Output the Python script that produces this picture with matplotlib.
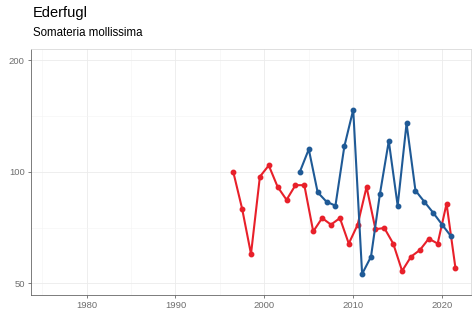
import numpy as np
import matplotlib.pyplot as plt
from matplotlib.ticker import FixedLocator, NullFormatter

plt.rcParams['font.family'] = ['Liberation Sans', 'DejaVu Sans']

# red series (season counts, plotted mid-season)
red_years = [1996.5, 1997.5, 1998.5, 1999.5, 2000.5, 2001.5, 2002.5, 2003.5,
             2004.5, 2005.5, 2006.5, 2007.5, 2008.5, 2009.5, 2010.5, 2011.5,
             2012.5, 2013.5, 2014.5, 2015.5, 2016.5, 2017.5, 2018.5, 2019.5,
             2020.5, 2021.5]
red_vals = [100, 79.5, 60, 97, 104, 91, 84, 92,
            92, 69, 75, 72, 75, 64, 72, 91,
            70, 70.5, 64, 54, 59, 61.5, 66, 64,
            82, 55]

# blue series
blue_years = [2004, 2005, 2006, 2007, 2008, 2009, 2010, 2011, 2012,
              2013, 2014, 2015, 2016, 2017, 2018, 2019, 2020, 2021]
blue_vals = [100, 115, 88, 83, 81, 117, 147, 53, 59,
             87, 121, 81, 135, 89, 83, 77.5, 72, 67]

x_ticks = [1980, 1990, 2000, 2010, 2020]
x_minor = [1975, 1985, 1995, 2005, 2015]
y_ticks = [50, 100, 200]
y_minor = [70.7, 141.4]

fig = plt.figure(figsize=(4.72, 3.16), dpi=100)
ax = fig.add_axes([31 / 472, (316 - 294.5) / 316, 440 / 472, 245.5 / 316])

ax.set_yscale('log')
ax.set_xlim(1973.75, 2023.25)
ax.set_ylim(50 / 10 ** 0.0301, 200 * 10 ** 0.0301)

ax.yaxis.set_major_locator(FixedLocator(y_ticks))
ax.yaxis.set_minor_locator(FixedLocator(y_minor))
ax.yaxis.set_minor_formatter(NullFormatter())
ax.set_yticklabels([str(v) for v in y_ticks])
ax.xaxis.set_major_locator(FixedLocator(x_ticks))
ax.xaxis.set_minor_locator(FixedLocator(x_minor))

ax.grid(which='major', color='#ebebeb', linewidth=0.6)
ax.grid(which='minor', color='#f4f4f4', linewidth=0.4)
ax.set_axisbelow(True)

ax.plot(red_years, red_vals, color='#e8202a', lw=1.5, marker='o', ms=3.2)
ax.plot(blue_years, blue_vals, color='#1f5a96', lw=1.5, marker='o', ms=3.2)

for s in ['top', 'right']:
    ax.spines[s].set_color('#d9d9d9')
    ax.spines[s].set_linewidth(0.6)
for s in ['left', 'bottom']:
    ax.spines[s].set_color('#666666')
    ax.spines[s].set_linewidth(0.6)

ax.tick_params(which='major', length=2.5, width=0.6, color='#666666',
               labelsize=6.8, labelcolor='#6e6e6e', pad=2)
ax.tick_params(which='minor', length=0)

fig.text(33 / 472, 1 - 13 / 316, 'Ederfugl', fontsize=10.5, va='center', ha='left')
fig.text(33 / 472, 1 - 33 / 316, 'Somateria mollissima', fontsize=8.3, va='center', ha='left')

fig.savefig('out.png', dpi=100)
